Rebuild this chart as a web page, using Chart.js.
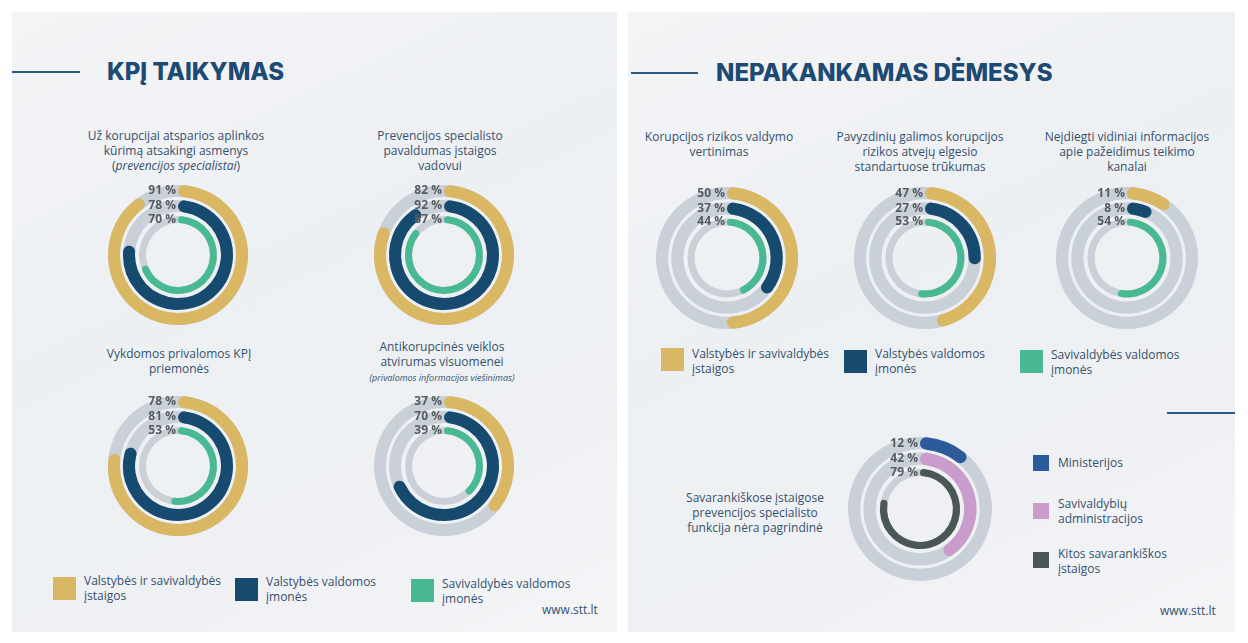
<!DOCTYPE html>
<html>
<head>
<meta charset="utf-8">
<script src="https://cdn.jsdelivr.net/npm/chart.js@4.4.0/dist/chart.umd.min.js"></script>
<style>
html, body { margin: 0; padding: 0; background: #fff; }
body { width: 1248px; height: 643px; position: relative; overflow: hidden; font-family: "Open Sans", sans-serif; color: #35506c; }
.panel { position: absolute; top: 12px; height: 620px; background: linear-gradient(155deg, #f3f4f6 0%, #edf0f3 40%, #eef0f3 70%, #f3f5f7 100%); }
.rule { position: absolute; height: 2px; background: #2d5a84; }
.head { position: absolute; font-family: Inter, sans-serif; font-weight: 800; font-size: 24px; line-height: 30px; color: #1c4a72; white-space: nowrap; }
.cap { position: absolute; text-align: center; font-size: 12px; line-height: 15px; white-space: nowrap; transform: translateX(-50%); }
.cap .small { font-size: 9px; font-style: italic; line-height: 12px; }
.ring { position: absolute; }
.sw { position: absolute; }
.lg { position: absolute; font-size: 12px; line-height: 15px; white-space: nowrap; }
.web { position: absolute; font-size: 12px; line-height: 15px; }
</style>
</head>
<body>
<div class="panel" style="left:12px;width:605px"></div>
<div class="panel" style="left:628px;width:607px"></div>

<div class="rule" style="left:12px;top:71px;width:68px"></div>
<div class="head" style="left:107px;top:57px">KPĮ TAIKYMAS</div>
<div class="rule" style="left:631px;top:72px;width:67px"></div>
<div class="head" style="left:716px;top:58px">NEPAKANKAMAS DĖMESYS</div>
<div class="rule" style="left:1167px;top:412px;width:68px"></div>

<div id="stage"></div>

<script>
// KPĮ taikymas (kairė pusė)
const groupLabels = ['Valstybės ir savivaldybės įstaigos', 'Valstybės valdomos įmonės', 'Savivaldybės valdomos įmonės'];
const kpjInstitutions = [91, 82, 78, 37];
const kpjStateCompanies = [78, 92, 81, 70];
const kpjMunicipalCompanies = [70, 87, 53, 39];

// Nepakankamas dėmesys (dešinė pusė)
const attentionInstitutions = [50, 47, 11];
const attentionStateCompanies = [37, 27, 8];
const attentionMunicipalCompanies = [44, 53, 54];

// Savarankiškos įstaigos
const autonomousLabels = ['Ministerijos', 'Savivaldybių administracijos', 'Kitos savarankiškos įstaigos'];
const autonomousValues = [12, 42, 79];

const groupColors = ['#d9b763', '#164a6f', '#48b993'];
const autonomousColors = ['#2c5a9a', '#c99ccb', '#4a5755'];
const trackColor = '#c9d0d8';

const stage = document.getElementById('stage');

const ringPlugin = {
    id: 'ringTrack',
    beforeDatasetsDraw(chart) {
        const ctx = chart.ctx;
        chart.data.datasets.forEach(function(ds, i) {
            if (ds.value === undefined) return;
            const arc = chart.getDatasetMeta(i).data[0];
            ctx.save();
            ctx.fillStyle = trackColor;
            ctx.beginPath();
            ctx.arc(arc.x, arc.y, arc.outerRadius, 0, Math.PI * 2);
            ctx.arc(arc.x, arc.y, arc.innerRadius, Math.PI * 2, 0, true);
            ctx.fill();
            ctx.restore();
        });
    },
    afterDatasetsDraw(chart) {
        const ctx = chart.ctx;
        chart.data.datasets.forEach(function(ds, i) {
            if (ds.value === undefined) return;
            const arc = chart.getDatasetMeta(i).data[0];
            ctx.save();
            ctx.font = 'bold 12px "Open Sans", sans-serif';
            ctx.fillStyle = '#565b61';
            ctx.textAlign = 'right';
            ctx.textBaseline = 'middle';
            ctx.fillText(ds.value + ' %', arc.x - 2, arc.y - (arc.innerRadius + arc.outerRadius) / 2);
            ctx.restore();
        });
    }
};

function spacer(w) {
    return { data: [1], backgroundColor: ['rgba(0,0,0,0)'], weight: w, borderWidth: 0, hoverOffset: 0 };
}

function ring(cx, cy, r, values, colors) {
    const box = document.createElement('div');
    box.className = 'ring';
    box.style.left = (cx - r) + 'px';
    box.style.top = (cy - r) + 'px';
    box.style.width = (2 * r) + 'px';
    box.style.height = (2 * r) + 'px';
    const cv = document.createElement('canvas');
    box.appendChild(cv);
    stage.appendChild(box);

    const widths = [12, 12, 7];
    const gaps = [3, 4];
    const datasets = [];
    values.forEach(function(v, k) {
        datasets.push({
            data: [v, 100 - v],
            value: v,
            backgroundColor: [colors[k], 'rgba(0,0,0,0)'],
            borderRadius: 20,
            borderWidth: 0,
            hoverOffset: 0,
            weight: widths[k]
        });
        if (k < gaps.length) datasets.push(spacer(gaps[k]));
    });

    new Chart(cv, {
        type: 'doughnut',
        data: { labels: ['dalis', 'likutis'], datasets: datasets },
        options: {
            responsive: true,
            maintainAspectRatio: false,
            animation: false,
            events: [],
            cutout: '45.7%',
            layout: { padding: 0 },
            plugins: { legend: { display: false }, tooltip: { enabled: false } }
        },
        plugins: [ringPlugin]
    });
}

function caption(cx, top, html) {
    const d = document.createElement('div');
    d.className = 'cap';
    d.style.left = cx + 'px';
    d.style.top = top + 'px';
    d.innerHTML = html;
    stage.appendChild(d);
}

function legendItem(x, y, size, color, text, tx, ty) {
    const s = document.createElement('div');
    s.className = 'sw';
    s.style.left = x + 'px';
    s.style.top = y + 'px';
    s.style.width = size + 'px';
    s.style.height = size + 'px';
    s.style.background = color;
    stage.appendChild(s);
    const t = document.createElement('div');
    t.className = 'lg';
    t.style.left = tx + 'px';
    t.style.top = ty + 'px';
    t.innerHTML = text;
    stage.appendChild(t);
}

function splitLabel(label, firstWords) {
    const w = label.split(' ');
    return w.slice(0, firstWords).join(' ') + '<br>' + w.slice(firstWords).join(' ');
}

// kairė pusė
const kpjCentres = [[178, 255], [444, 255], [178, 466], [444, 466]];
kpjCentres.forEach(function(c, i) {
    ring(c[0], c[1], 70, [kpjInstitutions[i], kpjStateCompanies[i], kpjMunicipalCompanies[i]], groupColors);
});
caption(176, 128, 'Už korupcijai atsparios aplinkos<br>kūrimą atsakingi asmenys<br>(<i>prevencijos specialistai</i>)');
caption(440, 128, 'Prevencijos specialisto<br>pavaldumas įstaigos<br>vadovui');
caption(179, 346, 'Vykdomos privalomos KPĮ<br>priemonės');
caption(442, 339, 'Antikorupcinės veiklos<br>atvirumas visuomenei<br><span class="small">(privalomos informacijos viešinimas)</span>');

legendItem(53, 577, 23, groupColors[0], splitLabel(groupLabels[0], 3), 84, 573);
legendItem(235, 578, 23, groupColors[1], splitLabel(groupLabels[1], 2), 266, 574);
legendItem(411, 579, 23, groupColors[2], splitLabel(groupLabels[2], 2), 442, 576);

// dešinė pusė
const attentionCentres = [[727, 258], [925, 258], [1127, 258]];
attentionCentres.forEach(function(c, i) {
    ring(c[0], c[1], 71, [attentionInstitutions[i], attentionStateCompanies[i], attentionMunicipalCompanies[i]], groupColors);
});
caption(719, 129, 'Korupcijos rizikos valdymo<br>vertinimas');
caption(920, 129, 'Pavyzdinių galimos korupcijos<br>rizikos atvejų elgesio<br>standartuose trūkumas');
caption(1127, 129, 'Neįdiegti vidiniai informacijos<br>apie pažeidimus teikimo<br>kanalai');

legendItem(661, 348, 23, groupColors[0], splitLabel(groupLabels[0], 3), 692, 346);
legendItem(844, 350, 23, groupColors[1], splitLabel(groupLabels[1], 2), 875, 346);
legendItem(1020, 350, 23, groupColors[2], splitLabel(groupLabels[2], 2), 1051, 347);

ring(920, 509, 72, autonomousValues, autonomousColors);
caption(755, 490, 'Savarankiškose įstaigose<br>prevencijos specialisto<br>funkcija nėra pagrindinė');

legendItem(1033, 455, 16, autonomousColors[0], autonomousLabels[0], 1058, 455);
legendItem(1033, 503, 16, autonomousColors[1], splitLabel(autonomousLabels[1], 1), 1058, 496);
legendItem(1033, 552, 16, autonomousColors[2], splitLabel(autonomousLabels[2], 2), 1058, 546);

const w1 = document.createElement('div');
w1.className = 'web'; w1.style.left = '542px'; w1.style.top = '602px'; w1.textContent = 'www.stt.lt';
stage.appendChild(w1);
const w2 = document.createElement('div');
w2.className = 'web'; w2.style.left = '1160px'; w2.style.top = '603px'; w2.textContent = 'www.stt.lt';
stage.appendChild(w2);
</script>
</body>
</html>
